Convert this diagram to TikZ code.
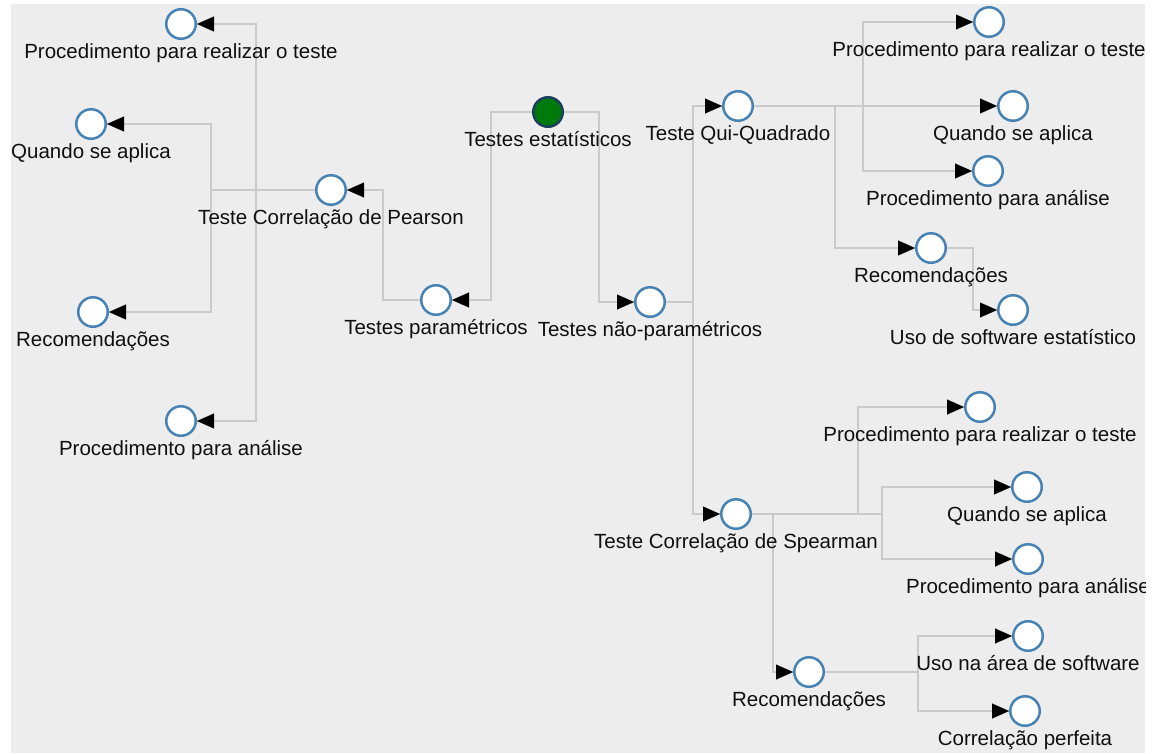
\documentclass[tikz,border=0pt]{standalone}
\usepackage{fontspec}
\setmainfont{Liberation Sans}
\usetikzlibrary{arrows.meta}

\definecolor{bg}{HTML}{EDEDED}
\definecolor{edgegray}{HTML}{CACACA}
\definecolor{ring}{HTML}{4682B4}
\definecolor{rootfill}{HTML}{007A0A}
\definecolor{rootring}{HTML}{1D3F5E}
\definecolor{txt}{HTML}{101010}

\tikzset{
  circ/.style={circle, draw=ring, fill=white, line width=2.5pt,
    minimum size=29.5pt, inner sep=0pt},
  rootcirc/.style={circ, draw=rootring, fill=rootfill},
  lbl/.style={anchor=base, text=txt, inner sep=0pt,
    font=\fontsize{20.5pt}{24pt}\selectfont},
  link/.style={draw=edgegray, line width=2.8pt,
    -{Triangle[length=17pt,width=15pt,color=black,line width=0.1pt]}},
}

\begin{document}
\begin{tikzpicture}[x=1pt,y=-1pt]
  \useasboundingbox (0,0) rectangle (1153,753);
  \fill[bg] (11,4) rectangle (1145,753);

  % tree nodes
  \node[rootcirc] (root) at (548,112) {};
  \node[circ] (par)  at (436,300) {};
  \node[circ] (nonp) at (650,302) {};
  % parametric branch
  \node[circ] (pear) at (331,190) {};
  \node[circ] (p1)   at (181,24)  {};
  \node[circ] (q1)   at (91,124)  {};
  \node[circ] (r1)   at (93,312)  {};
  \node[circ] (a1)   at (181,421) {};
  % chi-square branch
  \node[circ] (qui)  at (738,106) {};
  \node[circ] (qp)   at (989,22)  {};
  \node[circ] (qq)   at (1013,106){};
  \node[circ] (qa)   at (988,171) {};
  \node[circ] (qr)   at (931,248) {};
  \node[circ] (qu)   at (1013,310){};
  % Spearman branch
  \node[circ] (spe)  at (736,514) {};
  \node[circ] (sp)   at (980,407) {};
  \node[circ] (sq)   at (1027,487){};
  \node[circ] (sa)   at (1028,559){};
  \node[circ] (sr)   at (809,672) {};
  \node[circ] (su)   at (1028,636){};
  \node[circ] (sc)   at (1025,711){};

  % elbow connectors
  \draw[link] (root.west) -- (491,112) |- (par);
  \draw[link] (root.east) -- (599,112) |- (nonp);

  \draw[link] (par.west) -- (383,300) |- (pear);
  \draw[link] (pear.west) -- (256,190) |- (p1);
  \draw[link] (pear.west) -- (211,190) |- (q1);
  \draw[link] (pear.west) -- (211,190) |- (r1);
  \draw[link] (pear.west) -- (256,190) |- (a1);

  \draw[link] (nonp.east) -- (693,302) |- (qui);
  \draw[link] (nonp.east) -- (693,302) |- (spe);

  \draw[link] (qui.east) -- (863,106) |- (qp);
  \draw[link] (qui.east) -- (873,106) |- (qq);
  \draw[link] (qui.east) -- (863,106) |- (qa);
  \draw[link] (qui.east) -- (835,106) |- (qr);
  \draw[link] (qr.east) -- (973,248) |- (qu);

  \draw[link] (spe.east) -- (858,514) |- (sp);
  \draw[link] (spe.east) -- (882,514) |- (sq);
  \draw[link] (spe.east) -- (882,514) |- (sa);
  \draw[link] (spe.east) -- (773,514) |- (sr);
  \draw[link] (sr.east) -- (918,672) |- (su);
  \draw[link] (sr.east) -- (918,672) |- (sc);

  % labels under the circles, cut off at the panel edge
  \begin{scope}
    \clip (11,4) rectangle (1145,753);
    \node[lbl] (root-t) at ([yshift=-34pt]root.center) {Testes estatísticos};
    \node[lbl] (par-t)  at ([yshift=-34pt]par.center)  {Testes paramétricos};
    \node[lbl] (nonp-t) at ([yshift=-34pt]nonp.center) {Testes não-paramétricos};
    \node[lbl] (pear-t) at ([yshift=-34pt]pear.center) {Teste Correlação de Pearson};
    \node[lbl] (p1-t)   at ([yshift=-34pt]p1.center)   {Procedimento para realizar o teste};
    \node[lbl] (q1-t)   at ([yshift=-34pt]q1.center)   {Quando se aplica};
    \node[lbl] (r1-t)   at ([yshift=-34pt]r1.center)   {Recomendações};
    \node[lbl] (a1-t)   at ([yshift=-34pt]a1.center)   {Procedimento para análise};
    \node[lbl] (qui-t)  at ([yshift=-34pt]qui.center)  {Teste Qui-Quadrado};
    \node[lbl] (qp-t)   at ([yshift=-34pt]qp.center)   {Procedimento para realizar o teste};
    \node[lbl] (qq-t)   at ([yshift=-34pt]qq.center)   {Quando se aplica};
    \node[lbl] (qa-t)   at ([yshift=-34pt]qa.center)   {Procedimento para análise};
    \node[lbl] (qr-t)   at ([yshift=-34pt]qr.center)   {Recomendações};
    \node[lbl] (qu-t)   at ([yshift=-34pt]qu.center)   {Uso de software estatístico};
    \node[lbl] (spe-t)  at ([yshift=-34pt]spe.center)  {Teste Correlação de Spearman};
    \node[lbl] (sp-t)   at ([yshift=-34pt]sp.center)   {Procedimento para realizar o teste};
    \node[lbl] (sq-t)   at ([yshift=-34pt]sq.center)   {Quando se aplica};
    \node[lbl] (sa-t)   at ([yshift=-34pt]sa.center)   {Procedimento para análise};
    \node[lbl] (sr-t)   at ([yshift=-34pt]sr.center)   {Recomendações};
    \node[lbl] (su-t)   at ([yshift=-34pt]su.center)   {Uso na área de software};
    \node[lbl] (sc-t)   at ([yshift=-34pt]sc.center)   {Correlação perfeita};
  \end{scope}
\end{tikzpicture}
\end{document}
